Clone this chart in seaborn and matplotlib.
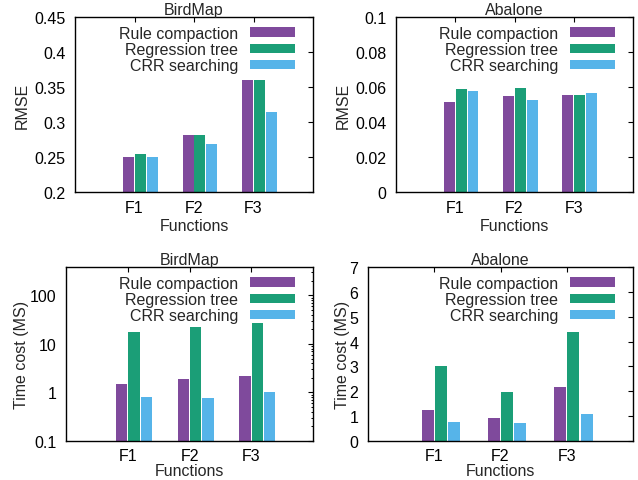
import numpy as np
import pandas as pd
import matplotlib
matplotlib.use("Agg")
import matplotlib.pyplot as plt
import seaborn as sns
from matplotlib.ticker import FuncFormatter, MultipleLocator, FixedLocator

# Categories and series
functions = ["F1", "F2", "F3"]
methods = ["Rule compaction", "Regression tree", "CRR searching"]
colors = ["#7F4A9C", "#1B9E77", "#56B4E9"]

# RMSE, BirdMap
birdmap_rmse_rule = [0.250, 0.281, 0.360]
birdmap_rmse_tree = [0.254, 0.281, 0.360]
birdmap_rmse_crr = [0.250, 0.269, 0.314]

# RMSE, Abalone
abalone_rmse_rule = [0.0516, 0.0551, 0.0557]
abalone_rmse_tree = [0.0591, 0.0597, 0.0557]
abalone_rmse_crr = [0.0580, 0.0524, 0.0568]

# Time cost (MS), BirdMap
birdmap_time_rule = [1.51, 1.92, 2.14]
birdmap_time_tree = [18.0, 22.8, 26.4]
birdmap_time_crr = [0.81, 0.78, 1.03]

# Time cost (MS), Abalone
abalone_time_rule = [1.24, 0.92, 2.18]
abalone_time_tree = [3.01, 1.96, 4.39]
abalone_time_crr = [0.75, 0.71, 1.09]

sns.set_theme(style="white")
plt.rcParams["font.family"] = ["Liberation Sans", "DejaVu Sans"]
plt.rcParams["font.size"] = 11.5

W, H = 638, 481
fig = plt.figure(figsize=(W / 100, H / 100), dpi=100)


def box(l, r, t, b):
    return [l / W, 1 - b / H, (r - l) / W, (b - t) / H]


def long_form(rule, tree, crr):
    return pd.DataFrame({
        "Functions": functions * 3,
        "Method": np.repeat(methods, len(functions)),
        "Value": list(rule) + list(tree) + list(crr),
    })


panels = [
    dict(rect=box(75, 313, 18, 193), title="BirdMap", ylabel="RMSE",
         df=long_form(birdmap_rmse_rule, birdmap_rmse_tree, birdmap_rmse_crr),
         log=False, ylim=(0.2, 0.45), step=0.05, ylab_x=-0.19,
         xlab_px=26, xpad=5.5),
    dict(rect=box(396, 633, 18, 193), title="Abalone", ylabel="RMSE",
         df=long_form(abalone_rmse_rule, abalone_rmse_tree, abalone_rmse_crr),
         log=False, ylim=(0.0, 0.1), step=0.02, ylab_x=-0.19,
         xlab_px=26, xpad=5.5),
    dict(rect=box(66, 313, 268, 442), title="BirdMap", ylabel="Time cost (MS)",
         df=long_form(birdmap_time_rule, birdmap_time_tree, birdmap_time_crr),
         log=True, ylim=(0.1, 385), step=None, ylab_x=-0.15,
         xlab_px=21.5, xpad=4.8),
    dict(rect=box(368, 633, 268, 442), title="Abalone", ylabel="Time cost (MS)",
         df=long_form(abalone_time_rule, abalone_time_tree, abalone_time_crr),
         log=False, ylim=(0, 7), step=1, ylab_x=-0.068,
         xlab_px=21.5, xpad=4.8),
]

fmt = FuncFormatter(lambda v, p: "%g" % v)

for p in panels:
    ax = fig.add_axes(p["rect"])
    sns.barplot(data=p["df"], x="Functions", y="Value", hue="Method",
                order=functions, hue_order=methods, palette=colors,
                width=0.6, gap=0.08, errorbar=None, saturation=1,
                linewidth=0, ax=ax)
    if p["log"]:
        ax.set_yscale("log")
    else:
        ax.yaxis.set_major_locator(MultipleLocator(p["step"]))
    ax.set_ylim(*p["ylim"])
    ax.yaxis.set_major_formatter(fmt)
    ax.set_xlim(-1.1, 2.9)
    ax.xaxis.set_major_locator(FixedLocator(np.arange(len(functions)) - 0.1))
    ax.set_xticklabels(functions)

    width_px = p["rect"][2] * W
    height_px = p["rect"][3] * H

    ax.set_title(p["title"], fontsize=11.5, pad=2)
    ax.set_xlabel("Functions", fontsize=11.5)
    ax.set_ylabel(p["ylabel"], fontsize=11.5)
    ax.yaxis.set_label_coords(p["ylab_x"], 0.5)
    ax.xaxis.set_label_coords(0.5, -p["xlab_px"] / height_px)

    ax.tick_params(axis="both", which="major", direction="in", top=True,
                   right=True, length=3.6, width=0.8, color="black",
                   labelsize=11.5, labelcolor="black")
    ax.tick_params(axis="both", which="minor", direction="in", top=True,
                   right=True, length=1.8, width=0.7, color="black")
    ax.tick_params(axis="y", pad=7)
    ax.tick_params(axis="x", pad=p["xpad"])
    for s in ax.spines.values():
        s.set_color("black")
        s.set_linewidth(1.0)

    handles, labels = ax.get_legend_handles_labels()
    ax.legend(handles, labels, loc="upper right",
              bbox_to_anchor=(1 - 18 / width_px, 1 - 9 / height_px),
              frameon=False, markerfirst=False, fontsize=11.5,
              handlelength=2.8, handleheight=0.56, handletextpad=0.75,
              labelspacing=0.07, borderpad=0, borderaxespad=0)

fig.savefig("out.png", dpi=100)
